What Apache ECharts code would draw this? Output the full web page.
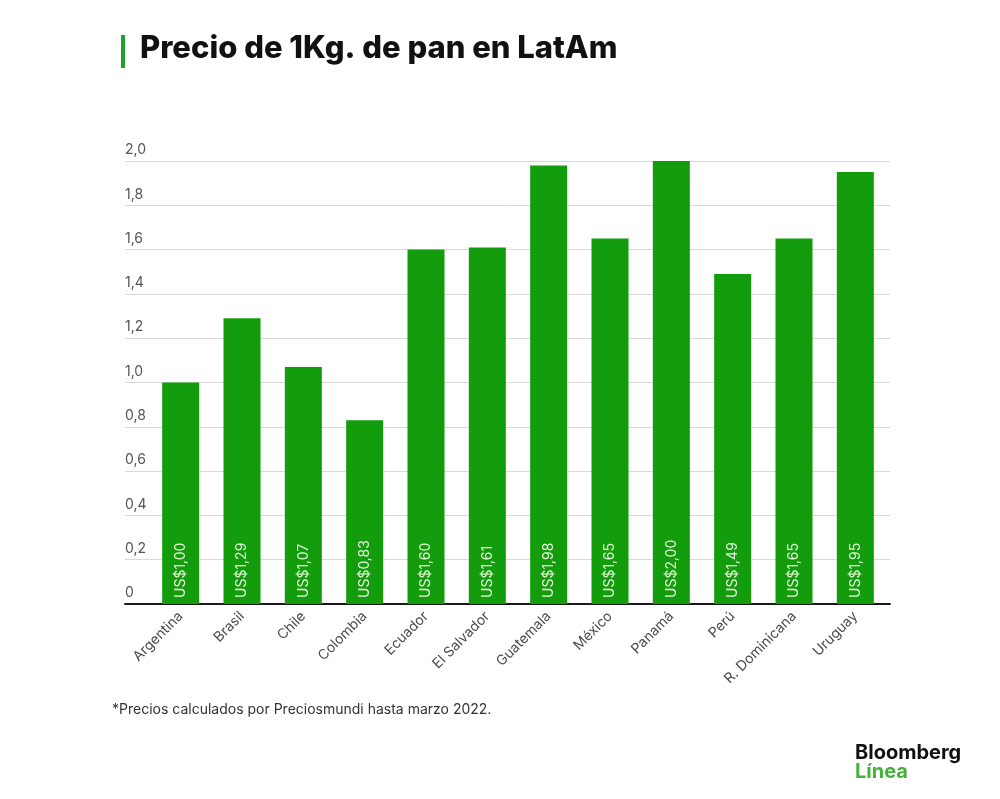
<!DOCTYPE html>
<html>
<head>
<meta charset="UTF-8">
<script src="https://cdn.jsdelivr.net/npm/echarts@6/dist/echarts.min.js"></script>
<style>
  html, body { margin: 0; padding: 0; width: 100%; height: 100%; background: #fff; }
  #main { width: 1000px; height: 799px; }
</style>
</head>
<body>
<div id="main"></div>
<script>
  const countries = ['Argentina', 'Brasil', 'Chile', 'Colombia', 'Ecuador', 'El Salvador',
    'Guatemala', 'México', 'Panamá', 'Perú', 'R. Dominicana', 'Uruguay'];
  const prices = [1.00, 1.29, 1.07, 0.83, 1.60, 1.61, 1.98, 1.65, 2.00, 1.49, 1.65, 1.95];
  const yTicks = { min: 0, max: 2, step: 0.2 };

  const green = '#139c0c';
  const fmt = v => v.toFixed(2).replace('.', ',');

  const chart = echarts.init(document.getElementById('main'));
  chart.setOption({
    animation: false,
    backgroundColor: '#fff',
    textStyle: { fontFamily: 'Inter' },
    title: {
      text: 'Precio de 1Kg. de pan en LatAm',
      left: 135, top: 28,
      textStyle: { fontFamily: 'Inter', fontWeight: 800, fontSize: 31, color: '#111' }
    },
    grid: [
      // full-width grid for gridlines and baseline
      { left: 125, right: 110, top: 161, bottom: 195 },
      // bars
      { left: 150, right: 114, top: 161, bottom: 195 }
    ],
    xAxis: [
      {
        gridIndex: 0, type: 'value', min: 0, max: 1,
        axisLabel: { show: false }, axisTick: { show: false }, splitLine: { show: false },
        axisLine: { show: true, lineStyle: { color: '#1a1a1a', width: 2 } }
      },
      {
        gridIndex: 1, type: 'category', data: countries,
        axisLine: { show: false }, axisTick: { show: false },
        axisLabel: { rotate: 45, margin: 10, fontSize: 14, color: '#4a4a4a', interval: 0 }
      }
    ],
    yAxis: [
      {
        gridIndex: 0, type: 'value', min: yTicks.min, max: yTicks.max, interval: yTicks.step,
        axisLine: { show: false }, axisTick: { show: false },
        splitLine: { lineStyle: { color: '#d9d9d9', width: 1 } },
        axisLabel: {
          inside: true, margin: 0, align: 'left', verticalAlign: 'bottom',
          padding: [0, 0, 4, 0], fontSize: 14, color: '#555',
          formatter: v => v === 0 ? '0' : v.toFixed(1).replace('.', ',')
        }
      },
      {
        gridIndex: 1, type: 'value', min: yTicks.min, max: yTicks.max,
        show: false
      }
    ],
    series: [{
      type: 'bar',
      xAxisIndex: 1, yAxisIndex: 1,
      data: prices,
      barWidth: 37,
      itemStyle: { color: green },
      label: {
        show: true, position: 'insideBottom', rotate: 90,
        align: 'left', verticalAlign: 'middle', distance: 6,
        fontSize: 14, color: '#e4f5dc',
        formatter: p => 'US$' + fmt(p.value)
      }
    }],
    graphic: [
      { type: 'rect', left: 121, top: 35, shape: { width: 4, height: 33 }, style: { fill: '#1fa22a' } },
      {
        type: 'text', left: 112, top: 703,
        style: { text: '*Precios calculados por Preciosmundi hasta marzo 2022.', fontSize: 14,
          fontFamily: 'Inter', fill: '#333' }
      },
      {
        type: 'text', left: 855, top: 743,
        style: { text: 'Bloomberg', fontSize: 20, fontWeight: 'bold', fontFamily: 'Inter', fill: '#111' }
      },
      {
        type: 'text', left: 855, top: 762,
        style: { text: 'Línea', fontSize: 20, fontWeight: 'bold', fontFamily: 'Inter', fill: '#45b13d' }
      }
    ]
  });
</script>
</body>
</html>
